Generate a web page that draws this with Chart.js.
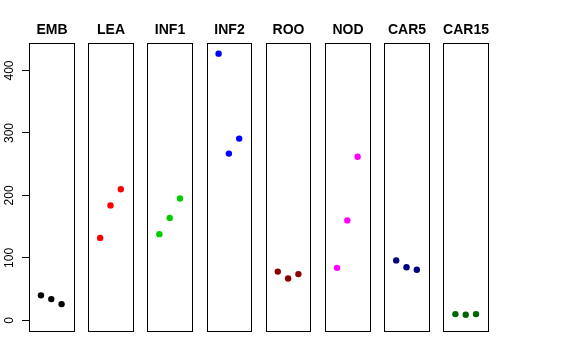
<!DOCTYPE html>
<html>
<head>
<meta charset="utf-8">
<script src="https://cdn.jsdelivr.net/npm/chart.js@4.4.1/dist/chart.umd.min.js"></script>
<style>
html,body{margin:0;padding:0;background:#fff;}
#wrap{width:576px;height:360px;position:relative;}
</style>
</head>
<body>
<div id="wrap"><canvas id="c" width="576" height="360"></canvas></div>
<script>
const categories = ['EMB','LEA','INF1','INF2','ROO','NOD','CAR5','CAR15'];
const emb   = [40, 34, 26];
const lea   = [132, 184, 210];
const inf1  = [138, 164, 195];
const inf2  = [427, 267, 291];
const roo   = [78, 67, 74];
const nod   = [84, 160, 262];
const car5  = [96, 85, 81];
const car15 = [10, 9, 10];
const seriesValues = [emb, lea, inf1, inf2, roo, nod, car5, car15];
const colors = ['#000000','#FF0000','#00CD00','#0000FF','#8B0000','#FF00FF','#000080','#006400'];
const yTicks = [0, 100, 200, 300, 400];

// panel layout in x-units (each panel holds x = 1..3, xlim 0..4 with 4% extension)
const PANEL_STEP = 5.74;
const XLO = -0.16, XHI = 4.16;
const yMaxData = Math.max(...seriesValues.flat());
const yMin = 0 - 0.04 * yMaxData, yMax = yMaxData * 1.04;

const datasets = seriesValues.map((vals, i) => ({
  label: categories[i],
  data: vals.map((v, j) => ({x: i * PANEL_STEP + (j + 1), y: v})),
  backgroundColor: colors[i],
  borderColor: colors[i],
  pointRadius: 3.2,
  pointBorderWidth: 0,
  showLine: false
}));

const panelPlugin = {
  id: 'panels',
  afterDatasetsDraw(chart) {
    const {ctx, chartArea, scales} = chart;
    const xs = scales.x;
    ctx.save();
    ctx.strokeStyle = '#000';
    ctx.lineWidth = 1;
    const top = Math.round(chartArea.top) + 0.5;
    const bot = Math.round(chartArea.bottom) + 0.5;
    categories.forEach((name, i) => {
      const l = Math.round(xs.getPixelForValue(i * PANEL_STEP + XLO)) + 0.5;
      const r = Math.round(xs.getPixelForValue(i * PANEL_STEP + XHI)) + 0.5;
      ctx.strokeRect(l, top, r - l, bot - top);
      ctx.fillStyle = '#000';
      ctx.font = 'bold 14px "Liberation Sans", Arial, Helvetica, sans-serif';
      ctx.textAlign = 'center';
      ctx.textBaseline = 'alphabetic';
      ctx.fillText(name, (l + r) / 2, 34);
    });
    ctx.restore();
  }
};

new Chart(document.getElementById('c'), {
  type: 'scatter',
  data: {datasets},
  options: {
    responsive: false,
    animation: false,
    devicePixelRatio: 1,
    layout: {padding: {left: 0, right: 88, top: 43, bottom: 29}},
    plugins: {legend: {display: false}, tooltip: {enabled: false}, title: {display: false}},
    scales: {
      x: {
        type: 'linear',
        display: false,
        min: XLO,
        max: (categories.length - 1) * PANEL_STEP + XHI
      },
      y: {
        type: 'linear',
        min: yMin,
        max: yMax,
        afterFit(scale) { scale.width = 29; },
        afterBuildTicks(scale) { scale.ticks = yTicks.map(v => ({value: v})); },
        grid: {drawOnChartArea: false, drawTicks: true, tickLength: 7, color: '#000', tickColor: '#000'},
        border: {display: true, color: '#000'},
        ticks: {
          minRotation: 90, maxRotation: 90,
          crossAlign: 'center',
          padding: 2,
          color: '#000',
          font: {family: '"Liberation Sans", Arial, Helvetica, sans-serif', size: 12},
          callback: v => String(v)
        }
      }
    }
  },
  plugins: [panelPlugin]
});
</script>
</body>
</html>
